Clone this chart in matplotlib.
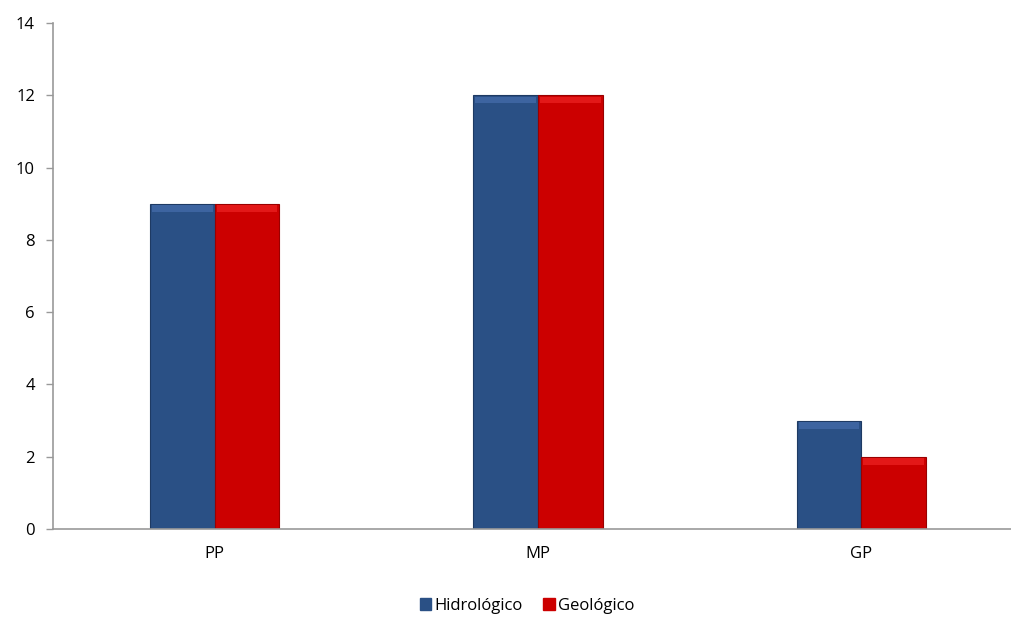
import numpy as np
import matplotlib.pyplot as plt

categories = ['PP', 'MP', 'GP']
hidrologico = [9, 12, 3]
geologico = [9, 12, 2]
series_names = ['Hidrológico', 'Geológico']

plt.rcParams['font.family'] = ['Open Sans', 'DejaVu Sans']

fig = plt.figure(figsize=(10.11, 6.17), dpi=100)
ax = fig.add_axes([53 / 1011, 88 / 617, 970 / 1011, 506 / 617])

x = np.arange(len(categories))
w = 0.2
blue = '#2a5085'
red = '#cc0000'
b1 = ax.bar(x - w / 2, hidrologico, w, color=blue, edgecolor='#1e3a63', linewidth=0.8,
            label=series_names[0], zorder=2)
b2 = ax.bar(x + w / 2, geologico, w, color=red, edgecolor='#990000', linewidth=0.8,
            label=series_names[1], zorder=2)

# soft bevel strip on top of each bar
for bars, hi in ((b1, '#3d64a0'), (b2, '#e31818')):
    for r in bars:
        ax.bar(r.get_x() + r.get_width() / 2, 0.18, r.get_width() * 0.94,
               bottom=r.get_height() - 0.22, color=hi, linewidth=0, zorder=3)

ax.set_xlim(-0.5, 2.5)
ax.set_ylim(0, 14)
ax.set_yticks(range(0, 15, 2))
ax.set_xticks(x)
ax.set_xticklabels(categories)
ax.tick_params(axis='x', length=0, pad=12, labelsize=12, colors='#000000')
ax.tick_params(axis='y', length=5, width=1, color='#999999', pad=8, labelsize=12)
for s in ['top', 'right']:
    ax.spines[s].set_visible(False)
for s in ['left', 'bottom']:
    ax.spines[s].set_color('#999999')
    ax.spines[s].set_linewidth(1.2)

handles = [plt.Rectangle((0, 0), 1, 1, color=blue), plt.Rectangle((0, 0), 1, 1, color=red)]
fig.legend(handles, series_names, loc='center', bbox_to_anchor=(527 / 1011, 1 - 606 / 617),
           ncol=2, frameon=False, fontsize=12, handlelength=0.7, handleheight=0.7,
           handletextpad=0.2, columnspacing=1.2)

fig.savefig('out.png', dpi=100)
